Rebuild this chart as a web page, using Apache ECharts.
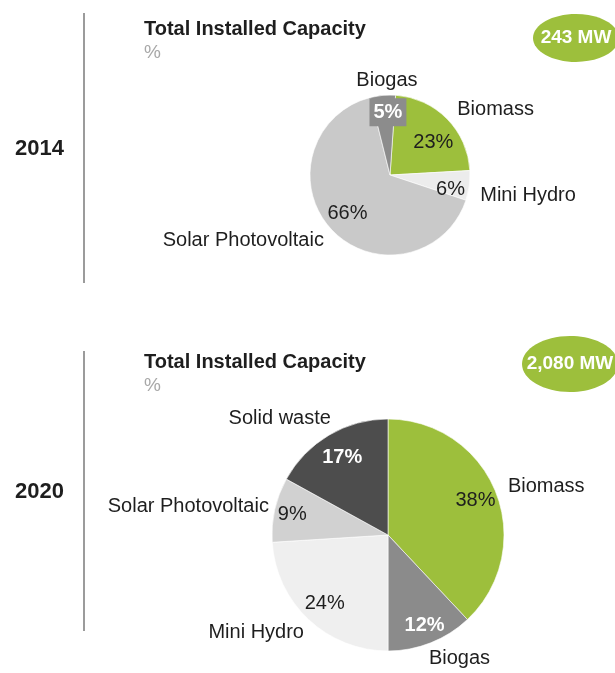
<!DOCTYPE html>
<html>
<head>
<meta charset="utf-8">
<script src="https://cdn.jsdelivr.net/npm/echarts@6/dist/echarts.min.js"></script>
<style>
  html, body { margin: 0; padding: 0; background: #ffffff; }
  #chart { width: 615px; height: 673px; }
</style>
</head>
<body>
<div id="chart"></div>
<script>
// Installed renewable capacity by source, shares in %
const years = ['2014', '2020'];
const totalCapacityMW = [243, 2080];

const categories2014 = ['Biomass', 'Mini Hydro', 'Solar Photovoltaic', 'Biogas'];
const shares2014 = [23, 6, 66, 5];

const categories2020 = ['Biomass', 'Biogas', 'Mini Hydro', 'Solar Photovoltaic', 'Solid waste'];
const shares2020 = [38, 12, 24, 9, 17];

const FONT = '"Liberation Sans", Arial, Helvetica, sans-serif';
const GREEN = '#9dbf3c';
const TEXT = '#1e1e1e';

// Panel geometry and styling
const panels = [
  {
    year: years[0], total: totalCapacityMW[0],
    categories: categories2014, shares: shares2014,
    colors: { 'Biomass': GREEN, 'Mini Hydro': '#ececec', 'Solar Photovoltaic': '#c9c9c9', 'Biogas': '#8c8c8c' },
    center: [390, 175], radius: 80, innerLabelRadius: 30, startAngle: 86,
    titleTop: 18, yearTop: 137, rule: [13, 283],
    badge: { cx: 576, cy: 38, rx: 43, ry: 24 },
    nameShift: [[1, -5], [0, 9], [2, 7], [40, -9]],
    valueShift: [[2, 8], [3, 7], [0, -1], [3, -5]]
  },
  {
    year: years[1], total: totalCapacityMW[1],
    categories: categories2020, shares: shares2020,
    colors: { 'Biomass': GREEN, 'Biogas': '#8b8b8b', 'Mini Hydro': '#efefef', 'Solar Photovoltaic': '#d1d1d1', 'Solid waste': '#4d4d4d' },
    center: [388, 535], radius: 116, innerLabelRadius: 66, startAngle: 90,
    titleTop: 351, yearTop: 480, rule: [351, 631],
    badge: { cx: 570, cy: 364, rx: 48, ry: 28 },
    nameShift: [[1.5, -4], [-9, 10], [4.5, 9], [5, -2], [10, -12]],
    valueShift: [[0, 0], [2, 3], [1, 0], [-4, 0], [2, 3]]
  }
];

const darkSlices = ['Biogas', 'Solid waste'];

// Outside labels: keep the side the pie chose, then shift a little
function outsideLayout(shifts, cx) {
  return function (p) {
    const s = shifts[p.dataIndex] || [0, 0];
    const r = p.labelRect;
    const right = (r.x + r.width / 2) > cx;
    return {
      x: (right ? r.x : r.x + r.width) + s[0],
      y: r.y + r.height / 2 + s[1],
      align: right ? 'left' : 'right',
      verticalAlign: 'middle'
    };
  };
}

// Inside labels: centred on their default spot, then shifted a little
function insideLayout(shifts) {
  return function (p) {
    const s = shifts[p.dataIndex] || [0, 0];
    const r = p.labelRect;
    return {
      x: r.x + r.width / 2 + s[0],
      y: r.y + r.height / 2 + s[1],
      align: 'center',
      verticalAlign: 'middle'
    };
  };
}

const series = [];
const titles = [];
const graphics = [];

panels.forEach(function (pn) {
  const data = pn.categories.map(function (name, i) {
    return { name: name, value: pn.shares[i], itemStyle: { color: pn.colors[name] } };
  });

  // Visible pie carrying the category names outside
  series.push({
    type: 'pie',
    center: pn.center,
    radius: pn.radius,
    startAngle: pn.startAngle,
    clockwise: true,
    avoidLabelOverlap: false,
    silent: true,
    itemStyle: { borderColor: '#ffffff', borderWidth: 0.6 },
    label: {
      show: true, position: 'outside', formatter: '{b}',
      color: TEXT, fontFamily: FONT, fontSize: 20
    },
    labelLine: { show: false, length: 6, length2: 0 },
    labelLayout: outsideLayout(pn.nameShift, pn.center[0]),
    data: data
  });

  // Transparent ring on top carrying the share labels
  series.push({
    type: 'pie',
    center: pn.center,
    radius: [pn.innerLabelRadius, pn.radius],
    startAngle: pn.startAngle,
    clockwise: true,
    avoidLabelOverlap: false,
    silent: true,
    z: 3,
    itemStyle: { color: 'rgba(0,0,0,0)' },
    label: {
      show: true, position: 'inside',
      formatter: function (p) { return p.value + '%'; },
      color: TEXT, fontFamily: FONT, fontSize: 20
    },
    labelLine: { show: false },
    labelLayout: insideLayout(pn.valueShift),
    data: pn.categories.map(function (name, i) {
      const dark = darkSlices.indexOf(name) >= 0;
      const item = { name: name, value: pn.shares[i] };
      if (dark) {
        item.label = { color: '#ffffff', fontWeight: 'bold' };
        if (pn.shares[i] < 8) {
          item.label.backgroundColor = pn.colors[name];
          item.label.padding = [4, 4, 4, 4];
        }
      }
      return item;
    })
  });

  titles.push({
    text: 'Total Installed Capacity',
    subtext: '%',
    left: 144, top: pn.titleTop,
    padding: 0, itemGap: 3,
    textStyle: { fontFamily: FONT, fontSize: 20, fontWeight: 'bold', color: TEXT, lineHeight: 22 },
    subtextStyle: { fontFamily: FONT, fontSize: 19, color: '#a8a8a8', lineHeight: 20 }
  });
  titles.push({
    text: pn.year,
    left: 15, top: pn.yearTop,
    padding: 0,
    textStyle: { fontFamily: FONT, fontSize: 22, fontWeight: 'bold', color: TEXT, lineHeight: 24 }
  });

  graphics.push({
    type: 'line',
    shape: { x1: 84, y1: pn.rule[0], x2: 84, y2: pn.rule[1] },
    style: { stroke: '#7a7a7a', lineWidth: 1.5 }
  });
  graphics.push({
    type: 'ellipse',
    shape: pn.badge,
    style: { fill: GREEN },
    textContent: {
      style: {
        text: pn.total.toLocaleString('en-US') + ' MW',
        fill: '#ffffff', font: 'bold 19px ' + FONT
      }
    },
    textConfig: { position: 'inside' }
  });
});

const chart = echarts.init(document.getElementById('chart'), null, { renderer: 'canvas' });
chart.setOption({
  animation: false,
  backgroundColor: '#ffffff',
  title: titles,
  graphic: graphics,
  series: series
});
</script>
</body>
</html>
